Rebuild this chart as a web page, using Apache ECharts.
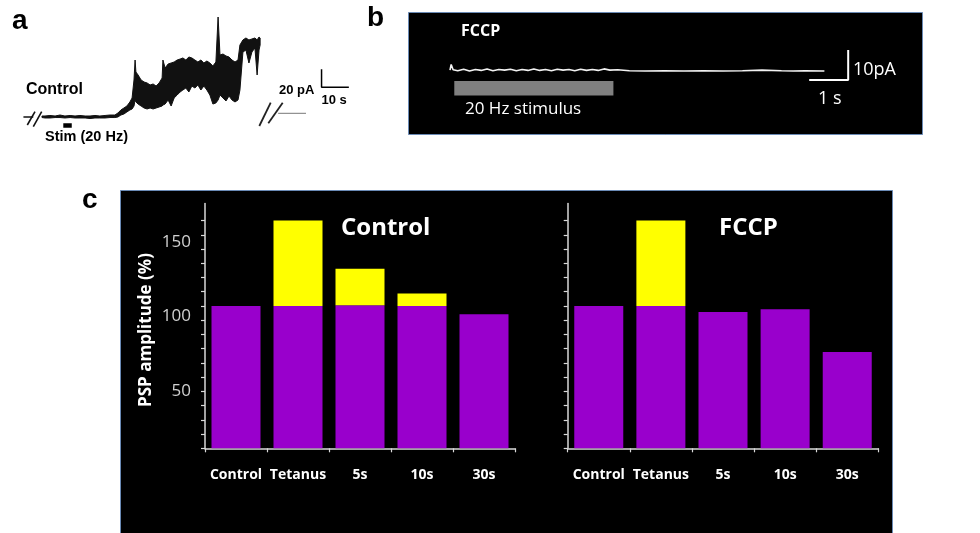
<!DOCTYPE html>
<html><head><meta charset="utf-8">
<script src="https://cdn.jsdelivr.net/npm/echarts@6/dist/echarts.min.js"></script>
<style>html,body{margin:0;padding:0;background:#fff}#c{width:980px;height:533px}</style>
</head><body><div id="c"></div>
<script>
// ---------- Panel a: control current trace (time s, current pA) ----------
const traceT  = [-1.1, 0, 1.8, 3.7, 5.5, 7.3, 9.2, 11, 12.8, 14.7, 16.5, 18.3, 20.1, 22, 23.8, 25.6, 26.7, 27.8, 28.9, 30, 31.1, 31.9, 32.6, 33, 33.3, 34.1, 35.2, 36.3, 37.4, 38.5, 39.6, 40.7, 41.8, 42.9, 43.2, 44, 45.1, 46.2, 47.3, 48.4, 49.5, 50.5, 51.6, 52.7, 53.8, 54.9, 56, 57.1, 58.2, 59.3, 60.4, 61.5, 62.6, 63.4, 64.1, 65.2, 66.3, 67.4, 68.5, 69.6, 70.7, 71.4, 72.5, 73.6, 74.7, 75.8, 76.9, 77.7, 78.4, 78.8];
const traceHi = [1.1, 1.1, 1.7, 1.1, 2.2, 1.1, 1.7, 1.1, 1.7, 1.1, 1.1, 1.7, 1.1, 1.7, 2.2, 2.2, 4.4, 7.8, 10, 12.2, 16.7, 21.1, 41.1, 63.3, 50, 46.7, 41.1, 38.9, 37.8, 35.6, 36.7, 34.4, 37.8, 43.3, 63.3, 54.4, 58.9, 60, 61.1, 63.3, 64.4, 65.6, 63.3, 66.7, 65.6, 63.3, 61.1, 63.3, 60, 62.2, 60, 56.7, 61.1, 111.1, 68.9, 70, 67.8, 66.7, 63.3, 61.1, 63.3, 80, 85.6, 87.8, 85.6, 86.7, 87.8, 85.6, 88.9, 87.8];
const traceLo = [-0.6, -1.1, -1.1, -0.6, -0.6, -1.1, -0.6, -1.1, -1.1, -1.1, -1.7, -1.1, -1.1, -1.1, -0.6, -0.6, 0, 2.2, 3.3, 5.6, 7.8, 8.9, 12.2, 18.9, 16.7, 14.4, 12.2, 10, 8.9, 10, 8.9, 10, 11.1, 12.2, 13.3, 14.4, 18.9, 12.2, 21.1, 24.4, 27.8, 30, 32.2, 27.8, 34.4, 32.2, 35.6, 30, 34.4, 30, 24.4, 14.4, 15.6, 18.9, 24.4, 21.1, 17.8, 23.3, 18.9, 16.7, 18.9, 30, 72.2, 74.4, 60, 72.2, 76.7, 46.7, 74.4, 80];
const preBreak  = [[-7.9, 0], [-4.3, 0]];
const postBreak = [[85.4, 4.1], [95.6, 4.1]];
const stimA     = [[6.7, -9.4], [9.8, -9.4]];
const scaleA    = [[101.3, 53], [101.3, 33], [111.3, 33]];   // 20 pA, 10 s

// ---------- Panel b: FCCP current trace (time s, current pA) ----------
const traceBT = [0, 0.03, 0.08, 0.2, 0.35, 0.5, 0.65, 0.8, 0.95, 1.1, 1.25, 1.4, 1.55, 1.7, 1.85, 2.0, 2.15, 2.3, 2.45, 2.6, 2.75, 2.9, 3.05, 3.2, 3.35, 3.5, 3.65, 3.8, 3.95, 4.1, 4.3, 4.6, 5.0, 5.5, 6.0, 6.5, 7.0, 7.5, 8.0, 8.5, 8.8, 9.1, 9.6];
const traceBI = [0.3, 2.2, 0.4, 0.1, 0.6, 0.0, 0.5, 0.2, 0.7, 0.1, 0.5, 0.3, 0.6, 0.1, 0.5, 0.2, 0.7, 0.2, 0.5, 0.1, 0.6, 0.3, 0.5, 0.1, 0.6, 0.2, 0.5, 0.2, 0.7, 0.3, 0.4, 0.1, 0.0, 0.1, 0.0, 0.1, 0.0, 0.1, 0.3, 0.1, 0.0, 0.1, 0.0];
const stimB  = [[0.11, -5.75], [4.19, -5.75]];
const scaleB = [[10.21, 7], [10.21, -3], [9.21, -3]];        // 10 pA, 1 s

// ---------- Panel c: PSP amplitude (%) ----------
const categories = ['Control', 'Tetanus', '5s', '10s', '30s'];
const ctrlBase  = [100, 100, 100.5, 100, 94.2];
const ctrlExtra = [0, 60, 25.7, 8.7, 0];
const fccpBase  = [100, 100, 95.8, 97.7, 67.7];
const fccpExtra = [0, 60, 0, 0, 0];
const yTickValues = [0, 10, 20, 30, 40, 50, 60, 70, 80, 90, 100, 110, 120, 130, 140, 150, 160];
const yLabelText = ['50', '100', '150'];
const yLabelAt   = [40.3, 93, 144.8];

const PURPLE = '#9900CC', YELLOW = '#FFFF00', AX = '#d9d9d9';
const OS = '"Open Sans", sans-serif', AR = '"Liberation Sans", Arial, sans-serif';

function hiddenAxes(min, max) { return { type: 'value', min: min, max: max, show: false }; }

function cX(idx) {
  return {
    type: 'category', gridIndex: idx, data: categories, boundaryGap: true,
    axisLine: { show: true, lineStyle: { color: AX, width: 1.5 } },
    axisTick: { show: true, length: 4, lineStyle: { color: AX, width: 1.2 } },
    axisLabel: { interval: 0, color: '#ffffff', fontFamily: OS, fontWeight: 'bold', fontSize: 14, margin: 20 }
  };
}
function cY(idx, withLabels) {
  return {
    type: 'value', gridIndex: idx, min: 0, max: 172,
    splitLine: { show: false },
    axisLine: { show: true, lineStyle: { color: AX, width: 1.5 } },
    axisTick: { show: true, customValues: yTickValues, length: 4, lineStyle: { color: AX, width: 1.2 } },
    axisLabel: { show: withLabels, customValues: yLabelAt, color: '#d0d0d0', fontFamily: OS, fontSize: 17, margin: 14,
      formatter: function (v) {
        let best = 0;
        for (let i = 1; i < yLabelAt.length; i++) if (Math.abs(yLabelAt[i] - v) < Math.abs(yLabelAt[best] - v)) best = i;
        return yLabelText[best];
      } }
  };
}

function txt(x, y, s, font, color, extra) {
  return Object.assign({ type: 'text', x: x, y: y, z: 100,
    style: { text: s, font: font, fill: color, textVerticalAlign: 'middle', textAlign: 'left' } }, extra || {});
}
function seg(x1, y1, x2, y2, color, w) {
  return { type: 'line', z: 100, shape: { x1: x1, y1: y1, x2: x2, y2: y2 }, style: { stroke: color, lineWidth: w } };
}

const chart = echarts.init(document.getElementById('c'), null, { renderer: 'canvas' });
chart.setOption({
  backgroundColor: '#ffffff',
  animation: false,
  grid: [
    { left: 17.7, top: 9, width: 341.25, height: 121.5 },
    { left: 411, top: 14, width: 507, height: 120 },
    { left: 205, top: 203.5, width: 310, height: 244.8 },
    { left: 567.7, top: 203.5, width: 310.6, height: 244.8 }
  ],
  xAxis: [
    Object.assign(hiddenAxes(-10, 115), { gridIndex: 0 }),
    Object.assign(hiddenAxes(-1, 12), { gridIndex: 1 }),
    cX(2), cX(3)
  ],
  yAxis: [
    Object.assign(hiddenAxes(-15, 120), { gridIndex: 0 }),
    Object.assign(hiddenAxes(-21, 19), { gridIndex: 1 }),
    cY(2, true), cY(3, false)
  ],
  graphic: { elements: [
    // panel backgrounds
    { type: 'rect', z: -100, shape: { x: 408.5, y: 12.5, width: 514, height: 122 }, style: { fill: '#000', stroke: '#6a8ab5', lineWidth: 1 } },
    { type: 'rect', z: -100, shape: { x: 120.5, y: 190.5, width: 772, height: 360 }, style: { fill: '#000', stroke: '#6a8ab5', lineWidth: 1 } },
    // panel letters
    txt(12, 21, 'a', 'bold 28px ' + AR, '#000'),
    txt(367, 18, 'b', 'bold 28px ' + AR, '#000'),
    txt(82, 200, 'c', 'bold 28px ' + AR, '#000'),
    // panel a texts
    txt(26, 90, 'Control', 'bold 16px ' + AR, '#000'),
    txt(45, 137, 'Stim (20 Hz)', 'bold 14.5px ' + AR, '#000'),
    txt(279, 90, '20 pA', 'bold 13px ' + AR, '#000'),
    txt(321.5, 100, '10 s', 'bold 13px ' + AR, '#000'),
    // panel a break marks
    seg(27.3, 125, 35, 111.7, '#111', 1.6),
    seg(33.3, 126.7, 41.7, 111.7, '#111', 1.6),
    seg(259.3, 126, 270.7, 102.7, '#222', 1.8),
    seg(268.3, 123.3, 282.7, 102.7, '#222', 1.8),
    // panel b texts
    txt(461, 31, 'FCCP', 'bold 16px ' + OS, '#fff'),
    txt(465, 109, '20 Hz stimulus', '17px ' + OS, '#fff'),
    txt(853, 70, '10pA', '18px ' + OS, '#fff'),
    txt(818, 99, '1 s', '18px ' + OS, '#fff'),
    // panel c axis title and chart titles
    { type: 'text', x: 146, y: 330, z: 100, rotation: Math.PI / 2,
      style: { text: 'PSP amplitude (%)', font: 'bold 17px ' + OS, fill: '#fff', textAlign: 'center', textVerticalAlign: 'middle' } },
    txt(341, 228, 'Control', 'bold 24px ' + OS, '#fff'),
    txt(719, 228, 'FCCP', 'bold 24px ' + OS, '#fff')
  ] },
  series: [
    { type: 'custom', xAxisIndex: 0, yAxisIndex: 0, silent: true,
      data: traceT.map(function (t, i) { return [t, traceHi[i], traceLo[i]]; }),
      encode: { x: 0, y: [1, 2] },
      renderItem: function (params, api) {
        if (params.dataIndex !== 0) return null;
        const pts = [];
        for (let i = 0; i < traceT.length; i++) pts.push(api.coord([traceT[i], traceHi[i]]));
        for (let i = traceT.length - 1; i >= 0; i--) pts.push(api.coord([traceT[i], traceLo[i]]));
        return { type: 'polygon', shape: { points: pts }, style: { fill: '#111', stroke: '#111', lineWidth: 1 } };
      } },
    { type: 'line', xAxisIndex: 0, yAxisIndex: 0, data: preBreak, showSymbol: false, lineStyle: { color: '#111', width: 1.5 } },
    { type: 'line', xAxisIndex: 0, yAxisIndex: 0, data: postBreak, showSymbol: false, lineStyle: { color: '#777', width: 1 } },
    { type: 'line', xAxisIndex: 0, yAxisIndex: 0, data: stimA, showSymbol: false, lineStyle: { color: '#000', width: 4.4, cap: 'butt' } },
    { type: 'line', xAxisIndex: 0, yAxisIndex: 0, data: scaleA, showSymbol: false, lineStyle: { color: '#000', width: 1.5 } },

    { type: 'line', xAxisIndex: 1, yAxisIndex: 1, data: traceBT.map(function (t, i) { return [t, traceBI[i]]; }),
      showSymbol: false, lineStyle: { color: '#f2f2f2', width: 1.6 } },
    { type: 'line', xAxisIndex: 1, yAxisIndex: 1, data: stimB, showSymbol: false, lineStyle: { color: '#808080', width: 14.7, cap: 'butt' } },
    { type: 'line', xAxisIndex: 1, yAxisIndex: 1, data: scaleB, showSymbol: false, lineStyle: { color: '#ffffff', width: 2 } },

    { type: 'bar', xAxisIndex: 2, yAxisIndex: 2, stack: 'ctrl', data: ctrlBase, barWidth: 49, itemStyle: { color: PURPLE } },
    { type: 'bar', xAxisIndex: 2, yAxisIndex: 2, stack: 'ctrl', data: ctrlExtra, barWidth: 49, itemStyle: { color: YELLOW } },
    { type: 'bar', xAxisIndex: 3, yAxisIndex: 3, stack: 'fccp', data: fccpBase, barWidth: 49, itemStyle: { color: PURPLE } },
    { type: 'bar', xAxisIndex: 3, yAxisIndex: 3, stack: 'fccp', data: fccpExtra, barWidth: 49, itemStyle: { color: YELLOW } }
  ]
});
</script>
</body></html>
